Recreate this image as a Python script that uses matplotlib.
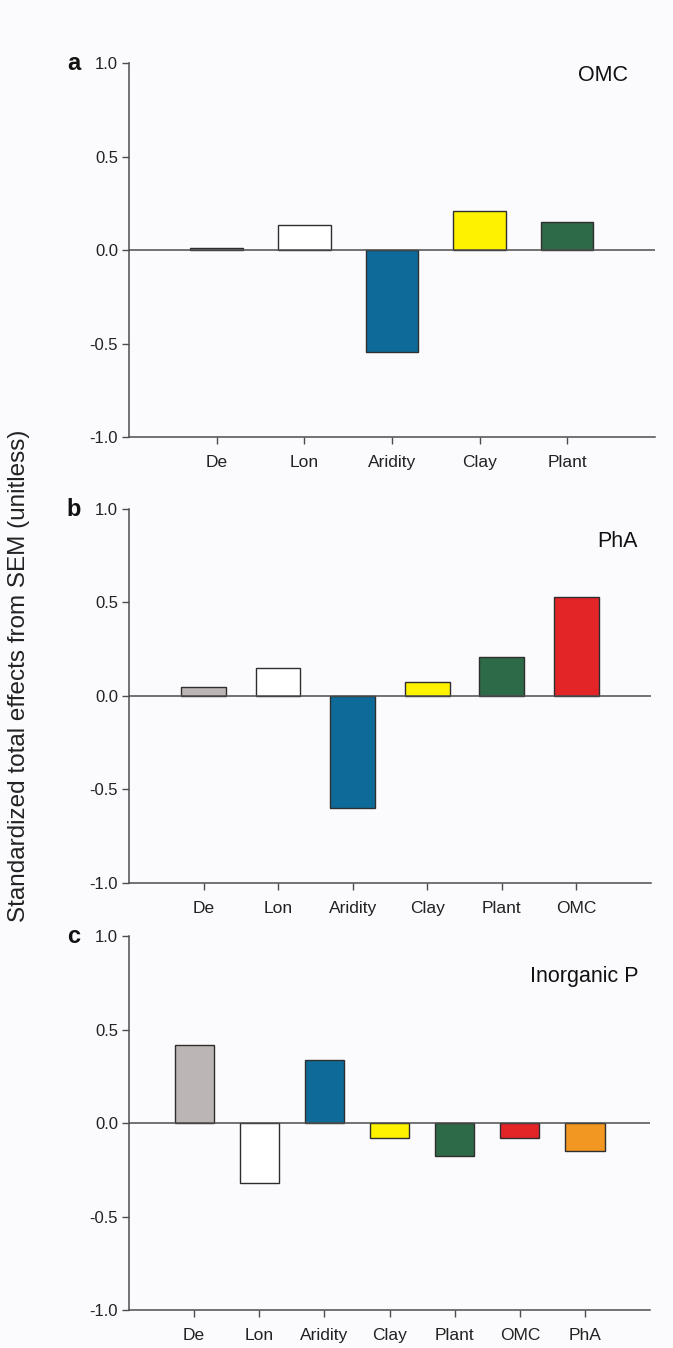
import matplotlib.pyplot as plt

plt.rcParams['font.family'] = ['Liberation Sans', 'DejaVu Sans']

# panel a: OMC
cats_a = ["De", "Lon", "Aridity", "Clay", "Plant"]
vals_a = [0.01, 0.134, -0.543, 0.207, 0.152]
# panel b: PhA
cats_b = ["De", "Lon", "Aridity", "Clay", "Plant", "OMC"]
vals_b = [0.048, 0.148, -0.598, 0.073, 0.206, 0.530]
# panel c: Inorganic P
cats_c = ["De", "Lon", "Aridity", "Clay", "Plant", "OMC", "PhA"]
vals_c = [0.418, -0.322, 0.338, -0.082, -0.178, -0.080, -0.151]

colors = {"De": "#bbb6b5", "Lon": "#ffffff", "Aridity": "#0e6b99",
          "Clay": "#fff200", "Plant": "#2d6a47", "OMC": "#e32528",
          "PhA": "#f29722"}

bg = "#fbfbfd"
axc = "#4d4d4d"

fig = plt.figure(figsize=(6.73, 13.48), dpi=100, facecolor=bg)

# letter, title, cats, vals, axes bottom, axes right, title x, title y
panels = [
    ("a", "OMC", cats_a, vals_a, 0.6758, 0.973, 0.949, 0.968),
    ("b", "PhA", cats_b, vals_b, 0.3450, 0.967, 0.975, 0.914),
    ("c", "Inorganic P", cats_c, vals_c, 0.0282, 0.966, 0.977, 0.893),
]

for letter, title, cats, vals, bottom, right, tx, ty in panels:
    left = 129 / 673
    ax = fig.add_axes([left, bottom, right - left, 0.2774])
    ax.set_facecolor(bg)
    x = range(len(cats))
    ax.bar(x, vals, width=0.6, color=[colors[c] for c in cats],
           edgecolor="#2e2e2e", linewidth=1.0, zorder=2)
    ax.axhline(0, color=axc, linewidth=1.1, zorder=3)
    ax.set_xlim(-1, len(cats))
    ax.set_ylim(-1, 1)
    ax.set_yticks([-1, -0.5, 0, 0.5, 1])
    ax.set_yticklabels(["-1.0", "-0.5", "0.0", "0.5", "1.0"])
    ax.set_xticks(list(x))
    ax.set_xticklabels(cats)
    for s in ["top", "right"]:
        ax.spines[s].set_visible(False)
    for s in ["left", "bottom"]:
        ax.spines[s].set_color(axc)
        ax.spines[s].set_linewidth(1.1)
    ax.tick_params(axis="y", direction="out", length=5, width=1.0,
                   color=axc, labelsize=12, pad=3, labelcolor="#222222")
    ax.tick_params(axis="x", direction="out", length=5, width=1.0,
                   color=axc, labelsize=12.5, pad=8, labelcolor="#222222")
    ax.text(tx, ty, title, transform=ax.transAxes, ha="right",
            va="center", fontsize=15.5, color="#111111")
    ax.text(-0.093, 1.0, letter, transform=ax.transAxes, ha="right",
            va="center", fontsize=17, fontweight="bold", color="#111111")

fig.text(0.028, 0.499, "Standardized total effects from SEM (unitless)",
         rotation=90, ha="center", va="center", fontsize=17.5,
         color="#222222")

fig.savefig("out.png", dpi=100, facecolor=bg)
